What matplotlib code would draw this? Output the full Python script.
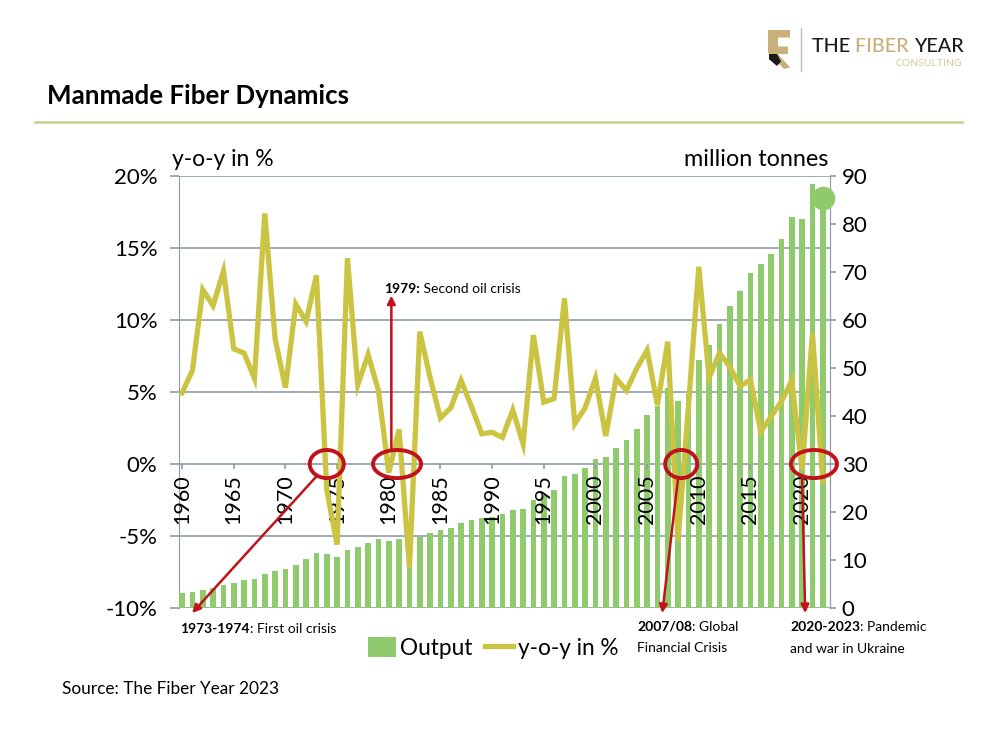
import matplotlib
matplotlib.use("Agg")
import matplotlib.pyplot as plt
import matplotlib.patches as mpatches
from matplotlib.lines import Line2D
from matplotlib.text import Annotation

plt.rcParams['font.family'] = ['Lato', 'DejaVu Sans']

# ---- data ----
years = list(range(1960, 2023))
output_mt = [3.2, 3.3, 3.8, 4.1, 4.9, 5.3, 5.8, 6.0, 7.1, 7.7,
             8.2, 9.0, 10.2, 11.4, 11.2, 10.6, 12.1, 12.8, 13.6, 14.4,
             14.0, 14.4, 13.4, 14.9, 15.6, 16.2, 16.7, 17.7, 18.3, 18.7,
             19.0, 19.6, 20.4, 20.6, 22.5, 23.5, 24.5, 27.5, 28.0, 29.2,
             31.0, 31.4, 33.3, 35.0, 37.2, 40.3, 42.0, 45.8, 43.1, 44.6,
             51.7, 54.8, 59.2, 62.9, 66.1, 69.9, 71.7, 73.7, 76.9, 81.5,
             81.0, 88.3, 85.4]
yoy_pct = [4.95, 6.5, 12.1, 11.0, 13.4, 8.0, 7.7, 5.95, 17.4, 8.7,
           5.3, 11.1, 9.9, 13.1, -1.8, -5.6, 14.3, 5.5, 7.6, 5.1,
           -0.6, 2.4, -7.2, 9.2, 6.0, 3.2, 3.9, 5.8, 4.0, 2.1,
           2.2, 1.85, 3.75, 1.4, 8.95, 4.3, 4.55, 11.5, 2.8, 3.9,
           5.95, 1.95, 5.95, 5.1, 6.65, 7.9, 4.1, 8.5, -5.3, 4.0,
           13.7, 6.0, 7.7, 6.75, 5.4, 5.85, 2.25, 3.3, 4.35, 5.8,
           -0.4, 9.1, -1.2]

year_ticks = list(range(1960, 2021, 5))
left_ticks = [-10, -5, 0, 5, 10, 15, 20]
left_labels = ['-10%', '-5%', '0%', '5%', '10%', '15%', '20%']
right_ticks = list(range(0, 91, 10))

# crisis circles: centre year, width in years
circle_years = [1974.0, 1980.8, 2008.3, 2021.15]
circle_widths = [3.3, 4.65, 3.1, 4.45]
circle_height = 1.95

GREEN = '#8fcb6c'
YELLOW = '#cbc443'
GRID = '#8e9ca8'
RED = '#c1121c'
GOLD = '#c9b07a'

fig = plt.figure(figsize=(10, 7.5), dpi=100)

# ---- header ----
fig.text(0.047, 0.872, 'Manmade Fiber Dynamics', fontsize=18.6, fontweight='bold', va='center')
fig.add_artist(Line2D([0.035, 0.962], [0.837, 0.837], color='#c6cf8c', lw=1.8))

# logo
fig.add_artist(mpatches.Polygon([[0.768, 0.960], [0.790, 0.960], [0.790, 0.950], [0.778, 0.950],
                                 [0.778, 0.938], [0.788, 0.938], [0.788, 0.928], [0.778, 0.928],
                                 [0.790, 0.910], [0.784, 0.908], [0.768, 0.930]],
                                closed=True, color=GOLD, lw=0))
fig.add_artist(mpatches.Polygon([[0.769, 0.928], [0.777, 0.928], [0.781, 0.918], [0.777, 0.912],
                                 [0.769, 0.921]], closed=True, color='#1a1a1a', lw=0))
fig.add_artist(Line2D([0.801, 0.801], [0.905, 0.963], color='#bbbbbb', lw=1))
t1 = fig.text(0.812, 0.938, 'THE ', fontsize=14.2, color='#1a1a1a', va='center', fontweight='medium')
a2 = fig.add_artist(Annotation('FIBER ', xy=(1, 0), xycoords=t1, fontsize=14.2,
                               color=GOLD, fontweight='medium', va='bottom'))
fig.add_artist(Annotation('YEAR', xy=(1, 0), xycoords=a2, fontsize=14.2,
                          color='#1a1a1a', fontweight='medium', va='bottom'))
fig.text(0.962, 0.916, 'CONSULTING', fontsize=7.5, color='#d6c8a2', ha='right', va='center')

# ---- axes ----
ax = fig.add_axes([0.179, 0.1893, 0.651, 0.576])
ax.set_xlim(1959.7, 2022.7)
ax.set_ylim(-10, 20)
ax.set_yticks(left_ticks, left_labels)
ax.set_xticks([])
ax.grid(axis='y', color=GRID, lw=1.2)
ax.spines['top'].set_visible(False)
ax.spines['bottom'].set_visible(False)
ax.spines['left'].set_color(GRID)
ax.spines['right'].set_color(GRID)
ax.tick_params(axis='y', length=6.5, width=1.2, color=GRID, labelsize=16, pad=9)

ax2 = ax.twinx()
bars = ax2.bar(years, output_mt, width=0.55, color=GREEN, label='Output', zorder=2)
ax2.plot(years[-1], output_mt[-1], 'o', ms=16, color=GREEN, clip_on=False, zorder=3)
ax2.set_ylim(0, 90)
ax2.set_yticks(right_ticks)
ax2.tick_params(axis='y', length=4.3, width=1.2, color=GRID, labelsize=16, pad=4)
for s in ['top', 'bottom', 'left']:
    ax2.spines[s].set_visible(False)
ax2.spines['right'].set_color(GRID)

ax3 = ax.twinx()
ax3.set_ylim(ax.get_ylim())
ax3.set_yticks([])
for s in ax3.spines.values():
    s.set_visible(False)
line, = ax3.plot(years, yoy_pct, color=YELLOW, lw=3.8, solid_joinstyle='miter',
                 label='y-o-y in %', zorder=3)

# year labels sitting on the 0% line
ymin, ymax = ax.get_ylim()
secax = ax3.secondary_xaxis((0 - ymin) / (ymax - ymin))
secax.set_xticks(year_ticks)
secax.tick_params(length=3.6, width=1.2, color=GRID, labelsize=15.5, labelrotation=90, pad=4)
for s in secax.spines.values():
    s.set_visible(False)

fig.text(0.172, 0.787, 'y-o-y in %', fontsize=16.5, va='center')
fig.text(0.828, 0.787, 'million tonnes', fontsize=16.8, va='center', ha='right')

# ---- crisis annotations ----
for cx, w in zip(circle_years, circle_widths):
    ax3.add_patch(mpatches.Ellipse((cx, 0), w, circle_height, fill=False, ec=RED,
                                   lw=2.8, clip_on=False, zorder=4))

arrow_kw = dict(arrowstyle='-|>', color=RED, lw=1.8, mutation_scale=12, shrinkA=0, shrinkB=0)
ax3.annotate('', xy=(1960.97, -10.35), xytext=(1972.95, -0.9), arrowprops=arrow_kw,
             annotation_clip=False, zorder=5)
ax3.annotate('', xy=(1980.25, 11.7), xytext=(1980.25, 0.97), arrowprops=arrow_kw,
             annotation_clip=False, zorder=5)
ax3.annotate('', xy=(2006.47, -10.35), xytext=(2008.0, -0.97), arrowprops=arrow_kw,
             annotation_clip=False, zorder=5)
ax3.annotate('', xy=(2020.3, -10.35), xytext=(2020.0, -0.97), arrowprops=arrow_kw,
             annotation_clip=False, zorder=5)

FS = 10


def two_part(x, y, bold, rest):
    t = ax3.text(x, y, bold, fontsize=FS, fontweight='bold', va='center', ha='left', clip_on=False)
    ax3.annotate(rest, xy=(1, 0), xycoords=t, fontsize=FS, va='bottom', ha='left',
                 annotation_clip=False)


two_part(1959.8, -11.45, '1973-1974', ': First oil crisis')
two_part(1979.55, 12.15, '1979:', ' Second oil crisis')
two_part(2004.05, -11.3, '2007/08', ': Global')
ax3.text(2004.05, -12.8, 'Financial Crisis', fontsize=FS, va='center', ha='left', clip_on=False)
two_part(2018.85, -11.3, '2020-2023', ': Pandemic')
ax3.text(2018.85, -12.85, 'and war in Ukraine', fontsize=FS, va='center', ha='left', clip_on=False)

# ---- legend & source ----
fig.legend([bars, line], ['Output', 'y-o-y in %'], loc='center', bbox_to_anchor=(0.493, 0.136),
           ncol=2, frameon=False, fontsize=16.3, handlelength=1.25, handleheight=1.0,
           handletextpad=0.2, columnspacing=0.55)
fig.text(0.062, 0.081, 'Source: The Fiber Year 2023', fontsize=12.4, va='center')

fig.savefig('out.png', dpi=100)
